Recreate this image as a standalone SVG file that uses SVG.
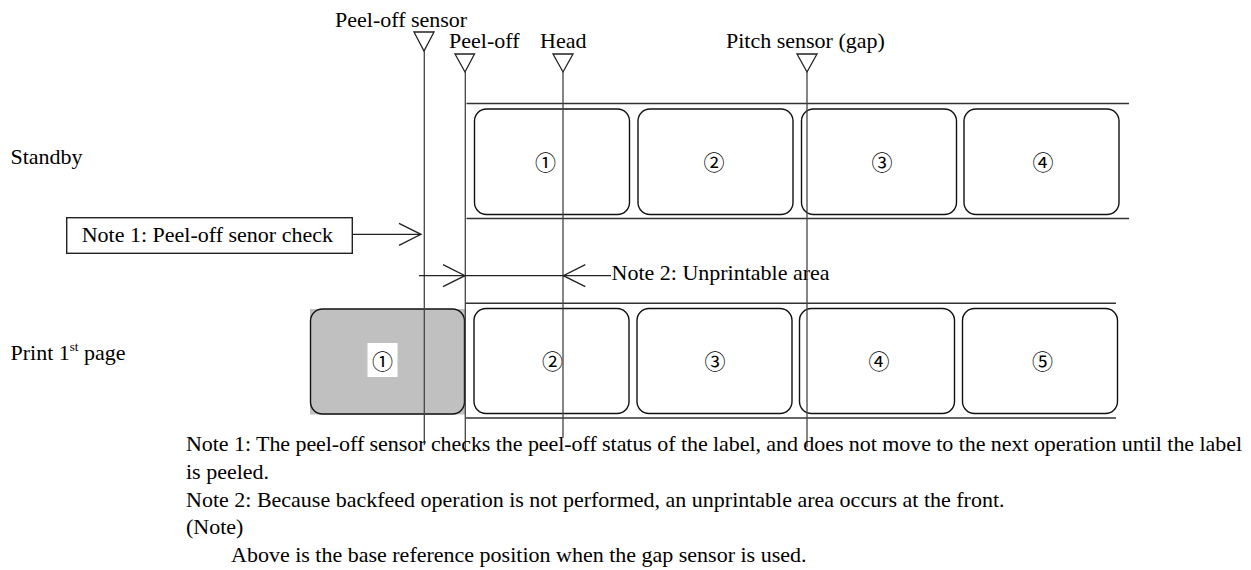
<svg xmlns="http://www.w3.org/2000/svg" width="1251" height="570" viewBox="0 0 1251 570">
<style>
  text { font-family: "Liberation Serif", "Times New Roman", serif; font-size: 22px; fill: #000; }
  .num { font-family: "Noto Sans CJK JP", "DejaVu Sans", sans-serif; font-size: 21px; text-anchor: middle; dominant-baseline: central; }
  .lbl { fill: #fff; stroke: #111; stroke-width: 1.4; }
  .band { stroke: #333; stroke-width: 1.4; fill: none; }
  .vline { stroke: #444; stroke-width: 1.3; fill: none; }
  .tri { fill: #fff; stroke: #222; stroke-width: 1.3; }
  .conn { stroke: #222; stroke-width: 1.3; fill: none; }
  .box { fill: #fff; stroke: #222; stroke-width: 1.4; }
</style>
<defs>
  <marker id="open" markerUnits="userSpaceOnUse" viewBox="-25 -14 28 28" markerWidth="28" markerHeight="28" refX="0" refY="0" orient="auto">
    <path d="M -22 -11 L 0 0 L -22 11" fill="none" stroke="#222" stroke-width="1.3"/>
  </marker>
</defs>

<rect width="1251" height="570" fill="#fff"/>

<!-- Row titles -->
<g id="row-standby"><text x="10.5" y="163.5">Standby</text></g>
<g id="row-print"><text x="10.5" y="360">Print 1<tspan font-size="13" dy="-9">st</tspan><tspan dy="9"> page</tspan></text></g>

<!-- Standby row -->
<g id="standby-band">
  <line class="band" x1="466.5" y1="103.5" x2="1129" y2="103.5"/>
  <line class="band" x1="466.5" y1="218.5" x2="1129" y2="218.5"/>
</g>
<g id="standby-label-1"><rect class="lbl" x="474.5" y="109" width="155" height="105.5" rx="12"/><text class="num" x="545.5" y="161">①</text></g>
<g id="standby-label-2"><rect class="lbl" x="638" y="109" width="155" height="105.5" rx="12"/><text class="num" x="714" y="161">②</text></g>
<g id="standby-label-3"><rect class="lbl" x="801.5" y="109" width="155" height="105.5" rx="12"/><text class="num" x="882" y="161">③</text></g>
<g id="standby-label-4"><rect class="lbl" x="964" y="109" width="155" height="105.5" rx="12"/><text class="num" x="1043" y="161">④</text></g>

<!-- Print row -->
<g id="print-band">
  <line class="band" x1="465.5" y1="303.3" x2="1116" y2="303.3"/>
  <line class="band" x1="465.5" y1="418" x2="1116" y2="418"/>
</g>
<g id="print-label-1">
  <rect x="310" y="309" width="155.5" height="105.5" fill="#c0c0c0"/>
  <rect x="310.5" y="309" width="154" height="105" rx="12" fill="none" stroke="#111" stroke-width="1.4"/>
  <rect x="367.5" y="343" width="30" height="34" fill="#fff"/>
  <text class="num" x="382.5" y="359.5">①</text>
</g>
<g id="print-label-2"><rect class="lbl" x="474" y="308.5" width="155" height="105" rx="12"/><text class="num" x="552.5" y="359.5">②</text></g>
<g id="print-label-3"><rect class="lbl" x="637" y="308.5" width="155" height="105" rx="12"/><text class="num" x="715" y="359.5">③</text></g>
<g id="print-label-4"><rect class="lbl" x="799.5" y="308.5" width="155" height="105" rx="12"/><text class="num" x="879" y="359.5">④</text></g>
<g id="print-label-5"><rect class="lbl" x="962.5" y="308.5" width="155" height="105" rx="12"/><text class="num" x="1042.5" y="359.5">⑤</text></g>

<!-- Sensors -->
<g id="sensor-peel-off-sensor">
  <text x="335" y="27">Peel-off sensor</text>
  <polygon class="tri" points="414,32 434,32 424,51"/>
</g>
<g id="sensor-peel-off">
  <text x="449" y="47.5">Peel-off</text>
  <polygon class="tri" points="455,54 474.5,54 465,72"/>
</g>
<g id="sensor-head">
  <text x="540" y="47.5">Head</text>
  <polygon class="tri" points="553,54 573,54 563,72"/>
</g>
<g id="sensor-pitch">
  <text x="726" y="47.5">Pitch sensor (gap)</text>
  <polygon class="tri" points="797,54 817,54 807,72"/>
</g>

<!-- Note 1 box -->
<g id="note1-box">
  <rect class="box" x="66.7" y="217.7" width="285.6" height="35.6"/>
  <text x="81.7" y="241.7">Note 1: Peel-off senor check</text>
</g>

<!-- Note 2 label -->
<g id="note2-label"><text x="611.5" y="280">Note 2: Unprintable area</text></g>

<!-- Connectors -->
<g id="connectors">
  <line class="vline" x1="424.3" y1="51" x2="424.3" y2="445"/>
  <line class="vline" x1="465.3" y1="72" x2="465.3" y2="452"/>
  <line class="vline" x1="563" y1="72" x2="563" y2="438"/>
  <line class="vline" x1="807" y1="72" x2="807" y2="447"/>
  <line class="conn" x1="352.3" y1="234.3" x2="421" y2="234.3" marker-end="url(#open)"/>
  <line class="conn" x1="419" y1="275.7" x2="465" y2="275.7" marker-end="url(#open)"/>
  <line class="conn" x1="465" y1="275.7" x2="563.3" y2="275.7"/>
  <line class="conn" x1="611" y1="275.7" x2="563.3" y2="275.7" marker-end="url(#open)"/>
</g>

<!-- Footnotes -->
<g id="footnotes">
  <text x="186" y="451" textLength="1056" lengthAdjust="spacing">Note 1: The peel-off sensor checks the peel-off status of the label, and does not move to the next operation until the label</text>
  <text x="186" y="478.5">is peeled.</text>
  <text x="186" y="506.5">Note 2: Because backfeed operation is not performed, an unprintable area occurs at the front.</text>
  <text x="186" y="534">(Note)</text>
  <text x="231" y="561.5">Above is the base reference position when the gap sensor is used.</text>
</g>
</svg>
